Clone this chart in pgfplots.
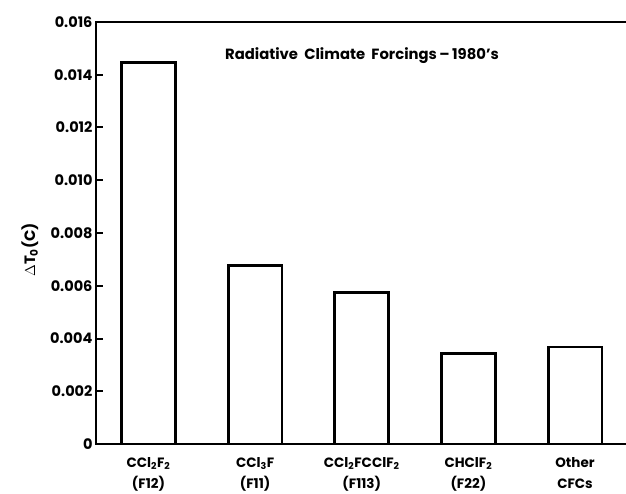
\documentclass[border=0pt]{standalone}
\usepackage{fontspec}
\setmainfont{Poppins}
\usepackage{pgfplots}
\pgfplotsset{compat=1.18}

\begin{document}
\begin{tikzpicture}
\useasboundingbox (-96pt,-49pt) rectangle (530pt,444pt);
\begin{axis}[
    at={(0pt,0pt)}, anchor=south west,
    scale only axis,
    width=530pt,
    height=422pt,
    ybar,
    bar width=0.505,
    xmin=-0.492, xmax=4.478,
    ymin=0, ymax=0.016,
    scaled y ticks=false,
    axis x line=box,
    axis y line=left,
    axis line style={-, line width=2.8pt, line cap=rect},
    xtick={0,1,2,3,4},
    xticklabels={
        {CCl\textsubscript{2}F\textsubscript{2}\\(F12)},
        {CCl\textsubscript{3}F\\(F11)},
        {CCl\textsubscript{2}FCClF\textsubscript{2}\\(F113)},
        {CHClF\textsubscript{2}\\(F22)},
        {Other\\CFCs}
    },
    major x tick style={draw=none},
    xticklabel style={align=center, yshift=-2.5pt, font=\fontsize{13.5}{21}\selectfont\bfseries},
    ytick={0,0.002,0.004,0.006,0.008,0.010,0.012,0.014,0.016},
    yticklabels={0,0.002,0.004,0.006,0.008,0.010,0.012,0.014,0.016},
    ytick align=inside,
    major tick length=7pt,
    major y tick style={line width=2pt, black},
    yticklabel style={font=\fontsize{14.5}{18}\selectfont\bfseries},
    ylabel={$\Delta$T\textsubscript{0}(C)},
    ylabel style={at={(axis description cs:-0.125,0.46)}, anchor=center,
        font=\fontsize{15}{18}\selectfont\bfseries},
]
\addplot[draw=black, line width=2.8pt, fill=white] coordinates {
    (0, 0.01445) (1, 0.00676) (2, 0.00573) (3, 0.00342) (4, 0.00368)
};
\node[font=\fontsize{14.8}{18}\selectfont\bfseries] at (rel axis cs:0.502,0.92)
    {Radiative\ \ Climate\ \ Forcings\,--\,1980's};
\end{axis}
\end{tikzpicture}
\end{document}
